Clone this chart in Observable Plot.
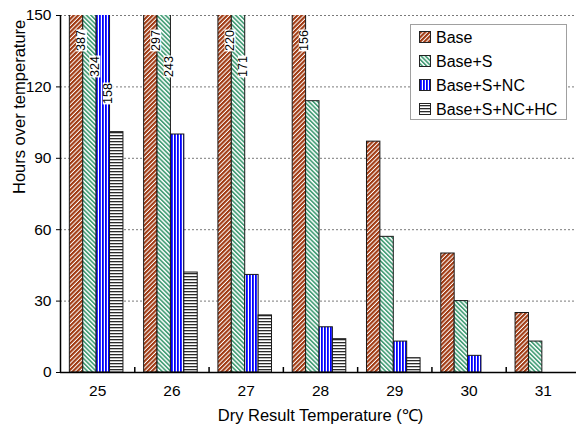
<!DOCTYPE html>
<html><head><meta charset="utf-8">
<script src="https://cdn.jsdelivr.net/npm/d3@7"></script>
<script src="https://cdn.jsdelivr.net/npm/@observablehq/plot@0.6"></script>
<style>body{margin:0;background:#fff} #chart{position:relative;width:576px;height:430px;overflow:hidden}</style>
</head><body><div id="chart"></div>
<script>
const temps = ["25","26","27","28","29","30","31"];
const seriesNames = ["Base","Base+S","Base+S+NC","Base+S+NC+HC"];
const baseHours = [387,297,220,156,97,50,25];
const baseSHours = [324,243,171,114,57,30,13];
const baseSNCHours = [158,100,41,19,13,7,0];
const baseSNCHCHours = [101,42,24,14,6,0,0];
const yTicks = [0,30,60,90,120,150];
const xLabel = "Dry Result Temperature (\u2103)";
const yLabel = "Hours over temperature";

const seriesValues = [baseHours, baseSHours, baseSNCHours, baseSNCHCHours];
const rows = seriesValues.map((vals, s) => temps.map((t, i) => ({temp: t, series: seriesNames[s], hours: vals[i]})));

const W = 576, H = 430, mL = 60, mR = -4, mT = 15, mB = 58;
const bw = (W - mR - mL) / temps.length;
const plotH = H - mT - mB;
const barW = 13.4;
const off = (bw - barW * 4) / 2 - 1;
const patternIds = ["pBase","pS","pNC","pHC"];
const yMax = yTicks[yTicks.length - 1];
const labelDy = [25, 51, 78];

const marks = [
  Plot.ruleY(yTicks.slice(1), {stroke: "#7a7a7a", strokeDasharray: "2,2", strokeWidth: 1})
];
rows.forEach((r, s) => {
  marks.push(Plot.barY(r, {x: "temp", y: "hours", fill: `url(#${patternIds[s]})`, stroke: "#1a1a1a", strokeWidth: 1,
    insetLeft: off + s * barW, insetRight: bw - off - (s + 1) * barW, clip: true}));
});
rows.forEach((r, s) => {
  const over = r.filter(d => d.hours > yMax);
  if (over.length) marks.push(Plot.text(over, {x: "temp", text: d => String(d.hours), frameAnchor: "top",
    dy: labelDy[s], dx: -bw / 2 + off + (s + 0.5) * barW, rotate: -90, fontSize: 12.5, fill: "black"}));
});
marks.push(Plot.ruleY([0], {stroke: "black", strokeWidth: 1.5}));
marks.push(Plot.ruleX([temps[0]], {dx: -bw / 2, stroke: "black", strokeWidth: 1.5}));
marks.push(Plot.ruleX(temps.slice(1), {dx: -bw / 2, stroke: "black", strokeWidth: 1.5, insetTop: plotH - 5}));
marks.push(Plot.text([yLabel], {text: d => d, frameAnchor: "left", dx: -41, rotate: -90, fontSize: 16.5}));
marks.push(Plot.text([xLabel], {text: d => d, frameAnchor: "bottom", dy: 48, fontSize: 16.5}));

const plot = Plot.plot({
  width: W, height: H, marginLeft: mL, marginRight: mR, marginTop: mT, marginBottom: mB,
  style: {fontFamily: "'Liberation Sans', Arial, sans-serif", fontSize: "15.5px", background: "white", overflow: "visible"},
  x: {type: "band", domain: temps, padding: 0, round: false, tickSize: 0, tickPadding: 12, label: null},
  y: {domain: [0, yMax], ticks: yTicks, tickSize: 4, tickPadding: 5, label: null},
  marks
});
document.getElementById("chart").appendChild(plot);

const svg = d3.select(plot);
const defs = svg.insert("defs", ":first-child");
function stripes(id, color, period, thick, angle, horizontal) {
  const p = defs.append("pattern").attr("id", id).attr("patternUnits", "userSpaceOnUse")
    .attr("width", period).attr("height", period);
  if (angle) p.attr("patternTransform", `rotate(${angle})`);
  p.append("rect").attr("width", period).attr("height", period).attr("fill", "white");
  if (horizontal) p.append("rect").attr("width", period).attr("height", thick).attr("fill", color);
  else p.append("rect").attr("width", thick).attr("height", period).attr("fill", color);
}
stripes("pBase", "#a03a12", 3.1, 2.1, 45, false);
stripes("pS", "#49a07a", 3.1, 1.7, -45, false);
stripes("pNC", "#0000ff", 3, 1.8, 0, false);
stripes("pHC", "#2a2a2a", 3, 1.3, 0, true);

// white boxes behind the value labels
svg.selectAll('g[aria-label="text"] text').each(function () {
  if (!/^\d+$/.test(this.textContent)) return;
  const b = this.getBBox();
  const r = document.createElementNS("http://www.w3.org/2000/svg", "rect");
  r.setAttribute("x", b.x - 0.5); r.setAttribute("y", b.y + 1.5);
  r.setAttribute("width", b.width + 1); r.setAttribute("height", b.height - 3);
  r.setAttribute("fill", "white"); r.setAttribute("stroke", "none");
  const tr = this.getAttribute("transform"); if (tr) r.setAttribute("transform", tr);
  this.parentNode.insertBefore(r, this);
});

// legend
const lg = svg.append("g").attr("font-family", "'Liberation Sans', Arial, sans-serif").attr("font-size", 16)
  .attr("text-anchor", "start");
lg.append("rect").attr("x", 410.5).attr("y", 24.5).attr("width", 156).attr("height", 95)
  .attr("fill", "white").attr("stroke", "#a0a0a0");
seriesNames.forEach((name, i) => {
  const cy = 37 + i * 24;
  lg.append("rect").attr("x", 419.5).attr("y", cy - 5.5).attr("width", 11).attr("height", 11)
    .attr("fill", `url(#${patternIds[i]})`).attr("stroke", "#222");
  lg.append("text").attr("x", 436).attr("y", cy).attr("dy", "0.35em").attr("fill", "black").text(name);
});
</script>
</body></html>
